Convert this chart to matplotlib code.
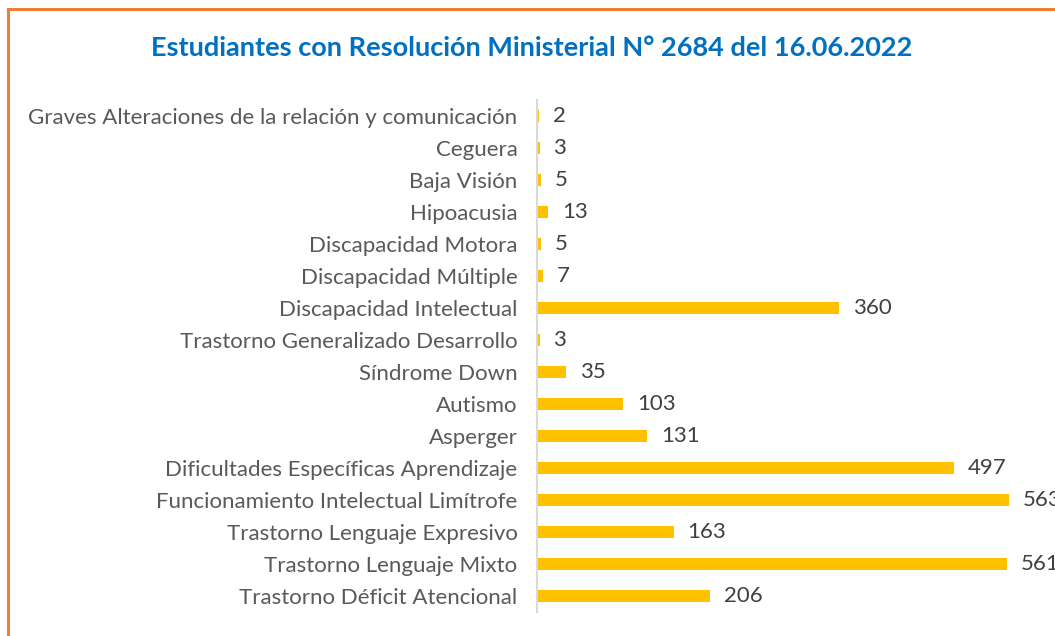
import matplotlib.pyplot as plt
from matplotlib.patches import Rectangle

# Datos
categorias = [
    "Graves Alteraciones de la relación y comunicación",
    "Ceguera",
    "Baja Visión",
    "Hipoacusia",
    "Discapacidad Motora",
    "Discapacidad Múltiple",
    "Discapacidad Intelectual",
    "Trastorno Generalizado Desarrollo",
    "Síndrome Down",
    "Autismo",
    "Asperger",
    "Dificultades Específicas Aprendizaje",
    "Funcionamiento Intelectual Limítrofe",
    "Trastorno Lenguaje Expresivo",
    "Trastorno Lenguaje Mixto",
    "Trastorno Déficit Atencional",
]
valores = [2, 3, 5, 13, 5, 7, 360, 3, 35, 103, 131, 497, 563, 163, 561, 206]

W, H = 1055, 636
plt.rcParams['font.family'] = ['Lato', 'DejaVu Sans']

fig = plt.figure(figsize=(W / 100, H / 100), dpi=100)
fig.patch.set_facecolor('white')

# Marco naranja
fig.patches.append(Rectangle((8 / W, -0.1), 1.2, (H - 9) / H + 0.1,
                             transform=fig.transFigure, fill=False,
                             edgecolor='#ED7D31', lw=2.2))

ax = fig.add_axes([537 / W, 24 / H, (W - 537) / W, 512 / H])
y = list(range(len(categorias)))
ax.barh(y, valores, height=0.4, color='#FFC000', zorder=1)
ax.set_xlim(0, 618)
ax.set_ylim(len(categorias) - 0.5, -0.5)
ax.set_yticks(y)
ax.set_yticklabels(categorias, fontsize=16, color='#595959')
ax.tick_params(axis='y', length=0, pad=14)
ax.set_xticks([])
for s in ['top', 'right', 'bottom']:
    ax.spines[s].set_visible(False)
ax.spines['left'].set_color('#D9D9D9')
ax.spines['left'].set_linewidth(1.5)
ax.spines['left'].set_zorder(3)

for yi, v in zip(y, valores):
    ax.annotate(str(v), (v, yi), xytext=(14, 0), textcoords='offset pixels',
                va='center', ha='left', fontsize=16, color='#404040',
                annotation_clip=False)

fig.text(532 / W, 1 - 48 / H, "Estudiantes con Resolución Ministerial N° 2684 del 16.06.2022",
         ha='center', va='center', fontsize=19.5, fontweight='bold', color='#0070C0')

fig.savefig('out.png', dpi=100)
